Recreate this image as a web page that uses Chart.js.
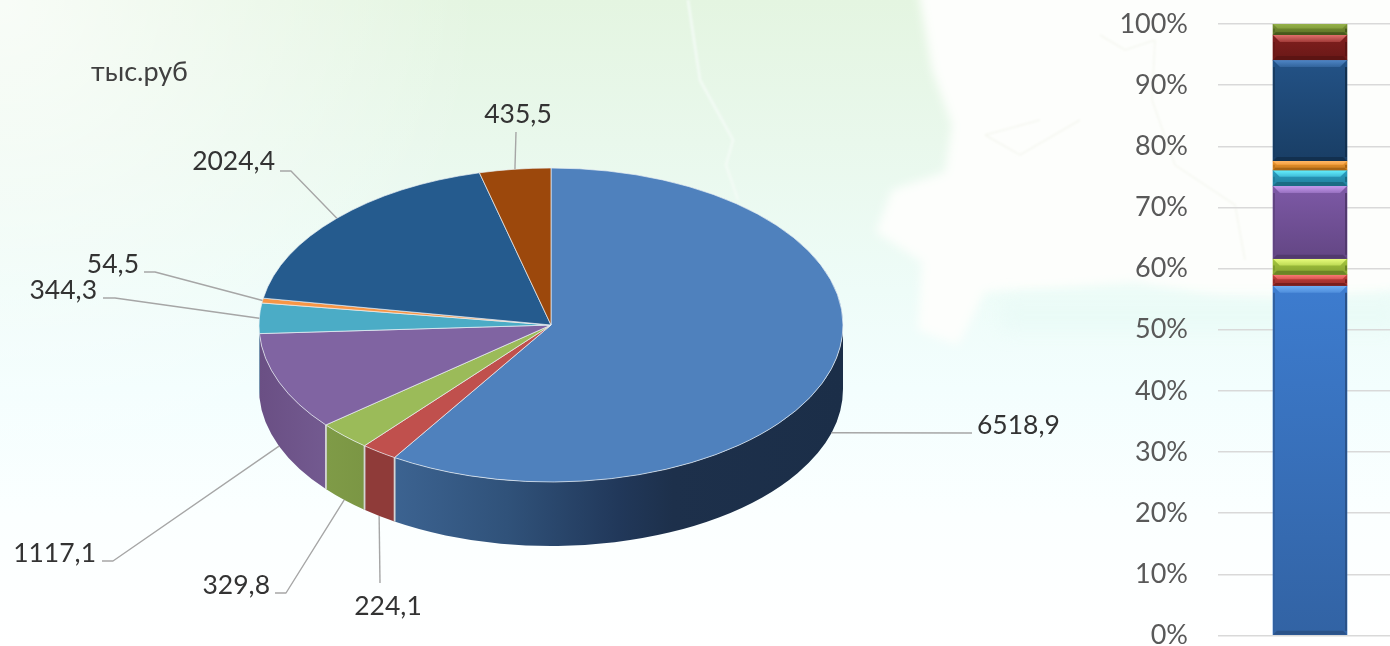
<!DOCTYPE html>
<html>
<head>
<meta charset="utf-8">
<style>
html,body{margin:0;padding:0;width:1390px;height:646px;overflow:hidden;background:#fff}
#bg{position:absolute;left:0;top:0}
#pie{position:absolute;left:0;top:0}
#bar{position:absolute;left:1100px;top:0}
#unit{position:absolute;left:91px;top:54px;font:27px Lato,sans-serif;color:#404040}
</style>
<script src="https://cdn.jsdelivr.net/npm/chart.js@4"></script>
</head>
<body>
<svg id="bg" width="1390" height="646" xmlns="http://www.w3.org/2000/svg">
  <defs>
    <linearGradient id="v" x1="0" y1="0" x2="0" y2="1">
      <stop offset="0" stop-color="#e4f5e1"/>
      <stop offset=".22" stop-color="#e9f8ec"/>
      <stop offset=".45" stop-color="#eefcf8"/>
      <stop offset=".6" stop-color="#f3fefe"/>
      <stop offset=".8" stop-color="#fbffff"/>
      <stop offset="1" stop-color="#ffffff"/>
    </linearGradient>
    <radialGradient id="h" gradientUnits="userSpaceOnUse" cx="0" cy="0" r="480">
      <stop offset="0" stop-color="#ffffff" stop-opacity=".75"/>
      <stop offset="1" stop-color="#ffffff" stop-opacity="0"/>
    </radialGradient>
    <filter id="b"><feGaussianBlur stdDeviation="5"/></filter>
    <filter id="b2"><feGaussianBlur stdDeviation="1"/></filter>
    <filter id="b3" x="-20%" y="-100%" width="140%" height="300%"><feGaussianBlur stdDeviation="10"/></filter>
  </defs>
  <rect width="1390" height="646" fill="url(#v)"/>
  <rect width="1390" height="646" fill="url(#h)"/>
  <path filter="url(#b)" fill="#fdfefc" d="M918,-10 L932,70 L952,125 L945,172 L892,190 L876,232 L922,262 L918,330 L958,345 L985,292 L1070,287 L1135,282 L1215,296 L1290,300 L1400,290 L1400,-10 Z"/>
  <path filter="url(#b2)" fill="none" stroke="#f3fbf5" stroke-width="2.5" d="M688,0 L700,80 L733,140 L726,165 L738,200"/>
  <path filter="url(#b2)" fill="none" stroke="#f5f7f0" stroke-width="1.5" d="M1155,40 L1152,100 L1175,165 L1235,205 L1245,260 M1100,35 L1125,50 L1155,40 M1040,120 L985,135 M985,135 L1020,155 L1080,120"/>
  <rect y="300" x="1000" width="400" height="30" fill="#e6faf5" opacity=".6" filter="url(#b3)"/>
</svg>
<canvas id="pie" width="1390" height="646"></canvas>
<canvas id="bar" width="302" height="670"></canvas>
<div id="unit">тыс.руб</div>
<script>
// ---- pie data ----
const pieValues = [6518.9, 224.1, 329.8, 1117.1, 344.3, 54.5, 2024.4, 435.5];
const pieLabels = ['6518,9', '224,1', '329,8', '1117,1', '344,3', '54,5', '2024,4', '435,5'];
const pieColors = ['#4f81bd', '#c0504d', '#9bbb59', '#8064a2', '#4bacc6', '#f79646', '#255b8e', '#9c480c'];

// ---- stacked bar data (share, %) ----
const stackValues = [57.2, 1.8, 2.6, 11.9, 2.6, 1.5, 16.5, 4.1, 1.8];
const stackColors = ['#3d7ccf', '#c5403c', '#a6c83e', '#7d59a6', '#2a9fc2', '#f0972e', '#235286', '#801f1e', '#7a9434'];
const stackDark   = ['#2a5288', '#7a1f1d', '#6b8526', '#523a6e', '#1b6c84', '#a96514', '#12304f', '#5c1413', '#46591c'];
const stackLight  = ['#6fb0f5', '#fb7a76', '#e8fc7c', '#c79bef', '#66f2ff', '#ffb766', '#4f86c6', '#e0706c', '#95b24a'];

// ---- drawing settings ----
const FONT = 'Lato, sans-serif';
const SQUASH = 157 / 292;
const DEPTH = 64;
const leaderLayout = [
  {elbow:[972,433], end:[972,433], tx:977,  ty:425, align:'left'},
  {elbow:[380,583], end:[380,583], tx:388,  ty:606, align:'center'},
  {elbow:[286,593], end:[275,593], tx:270,  ty:585, align:'right'},
  {elbow:[113,561], end:[102,561], tx:96,   ty:553, align:'right'},
  {elbow:[115,298], end:[103,298], tx:97,   ty:290, align:'right'},
  {elbow:[155,272], end:[144,272], tx:139,  ty:264, align:'right'},
  {elbow:[291,171], end:[280,171], tx:275,  ty:161, align:'right'},
  {elbow:[516,132], end:[516,132], tx:518,  ty:114, align:'center'}
];
const sideColors = [null, ['#8f3b39','#8f3b39'], ['#7f9b47','#7b9644'], ['#6a4f84','#735a90'], ['#3b8ba1','#3b8ba1'], ['#c47a3a','#c47a3a'], ['#1e4a73','#1e4a73'], ['#7c3a0a','#7c3a0a']];

const pieTilt = {
  id: 'pieTilt',
  beforeDatasetsDraw(chart) {
    const ctx = chart.ctx;
    const arcs = chart.getDatasetMeta(0).data;
    // side wall
    arcs.forEach((arc, i) => {
      const x = arc.x, y = arc.y, r = arc.outerRadius, s = arc.startAngle, e = arc.endAngle;
      const ry = r * SQUASH;
      for (const shift of [0, Math.PI * 2, -Math.PI * 2]) {
        const a0 = Math.max(s + shift, 0), a1 = Math.min(e + shift, Math.PI);
        if (a1 <= a0) continue;
        ctx.save();
        ctx.beginPath();
        ctx.ellipse(x, y, r, ry, 0, a0, a1);
        ctx.ellipse(x, y + DEPTH, r, ry, 0, a1, a0, true);
        ctx.closePath();
        const xa = x + r * Math.cos(a1), xb = x + r * Math.cos(a0);
        const g = ctx.createLinearGradient(xa, 0, xb, 0);
        if (i === 0) {
          g.addColorStop(0, '#3c6391');
          g.addColorStop(0.25, '#30527a');
          g.addColorStop(0.5, '#21385a');
          g.addColorStop(0.62, '#1d304b');
          g.addColorStop(1, '#1b2e48');
        } else {
          g.addColorStop(0, sideColors[i][0]);
          g.addColorStop(1, sideColors[i][1]);
        }
        ctx.fillStyle = g;
        ctx.fill();
        ctx.restore();
        // separators between neighbouring slices on the wall
        ctx.save();
        ctx.strokeStyle = '#d4d4d4';
        ctx.lineWidth = 1.6;
        [a0, a1].forEach(a => {
          if (a <= 0.001 || a >= Math.PI * 0.95) return;
          const px = x + r * Math.cos(a), py = y + ry * Math.sin(a);
          ctx.beginPath(); ctx.moveTo(px, py); ctx.lineTo(px, py + DEPTH); ctx.stroke();
        });
        ctx.restore();
      }
    });
    // squash the top face
    const c = arcs[0];
    ctx.save();
    ctx.translate(c.x, c.y);
    ctx.scale(1, SQUASH);
    ctx.translate(-c.x, -c.y);
  },
  afterDatasetsDraw(chart) {
    const ctx = chart.ctx;
    ctx.restore();
    const arcs = chart.getDatasetMeta(0).data;
    arcs.forEach((arc, i) => {
      const L = leaderLayout[i];
      const mid = (arc.startAngle + arc.endAngle) / 2;
      const r = arc.outerRadius, ry = r * SQUASH;
      const sx = arc.x + r * Math.cos(mid);
      let sy = arc.y + ry * Math.sin(mid);
      if (Math.sin(mid) > 0) sy += DEPTH;
      ctx.save();
      ctx.strokeStyle = '#a6a6a6';
      ctx.lineWidth = 1.4;
      ctx.lineJoin = 'round';
      ctx.beginPath();
      ctx.moveTo(sx, sy);
      ctx.lineTo(L.elbow[0], L.elbow[1]);
      ctx.lineTo(L.end[0], L.end[1]);
      ctx.stroke();
      ctx.fillStyle = '#333333';
      ctx.font = '26.5px ' + FONT;
      ctx.textAlign = L.align;
      ctx.textBaseline = 'middle';
      ctx.fillText(pieLabels[i], L.tx, L.ty);
      ctx.restore();
    });
  }
};

new Chart(document.getElementById('pie'), {
  type: 'pie',
  data: {
    labels: pieLabels,
    datasets: [{
      data: pieValues,
      backgroundColor: pieColors,
      borderColor: 'rgba(235,240,245,0.9)',
      borderWidth: 1,
      clip: false
    }]
  },
  options: {
    responsive: false,
    animation: false,
    layout: { padding: { left: 258.5, right: 546.5, top: 32.5, bottom: 28.5 } },
    plugins: { legend: { display: false }, tooltip: { enabled: false } }
  },
  plugins: [pieTilt]
});

function mix(a, b, t) {
  const p = s => [1, 3, 5].map(k => parseInt(s.substr(k, 2), 16));
  const A = p(a), B = p(b);
  return 'rgb(' + A.map((v, k) => Math.round(v + (B[k] - v) * t)).join(',') + ')';
}

const bevel = {
  id: 'bevel',
  afterDatasetsDraw(chart) {
    const ctx = chart.ctx;
    chart.data.datasets.forEach((ds, i) => {
      const el = chart.getDatasetMeta(i).data[0];
      const w = el.width, L = el.x - w / 2, R = el.x + w / 2, T = el.y, B = el.base;
      const h = B - T, d = Math.min(7, h * 0.42), db = Math.min(4, h * 0.25);
      const g = ctx.createLinearGradient(0, T, 0, B);
      g.addColorStop(0, stackColors[i]);
      g.addColorStop(1, mix(stackColors[i], stackDark[i], 0.6));
      ctx.fillStyle = g;
      ctx.fillRect(L, T, w, h);
      const tg = ctx.createLinearGradient(0, T, 0, T + d);
      tg.addColorStop(0, stackLight[i]);
      tg.addColorStop(1, mix(stackLight[i], stackColors[i], 0.65));
      ctx.fillStyle = tg;
      ctx.beginPath(); ctx.moveTo(L, T); ctx.lineTo(R, T); ctx.lineTo(R - d, T + d); ctx.lineTo(L + d, T + d); ctx.closePath(); ctx.fill();
      ctx.fillStyle = stackDark[i];
      ctx.beginPath(); ctx.moveTo(L, B); ctx.lineTo(R, B); ctx.lineTo(R - db, B - db); ctx.lineTo(L + db, B - db); ctx.closePath(); ctx.fill();
      const side = Math.max(h - d - db, 0);
      ctx.fillStyle = mix(stackDark[i], stackColors[i], 0.35);
      ctx.fillRect(L, T + d, 2, side);
      ctx.fillStyle = stackDark[i];
      ctx.fillRect(R - 2, T + d, 2, side);
    });
  }
};

new Chart(document.getElementById('bar'), {
  type: 'bar',
  data: {
    labels: ['Итого'],
    datasets: stackValues.map((v, i) => ({ data: [v], backgroundColor: stackColors[i], barThickness: 74 }))
  },
  options: {
    responsive: false,
    animation: false,
    layout: { padding: { left: 0, right: 0, top: 24, bottom: 34.5 } },
    plugins: { legend: { display: false }, tooltip: { enabled: false } },
    scales: {
      x: { stacked: true, display: false },
      y: {
        stacked: true, min: 0, max: 100,
        afterFit(s) { s.width = 118; s.paddingTop = 0; s.paddingBottom = 0; },
        grid: { color: '#d9d9d9', lineWidth: 1.5, drawTicks: false },
        border: { display: false },
        ticks: {
          stepSize: 10, padding: 30, color: '#595959',
          font: { family: FONT, size: 27 },
          callback: v => v + '%'
        }
      }
    }
  },
  plugins: [bevel]
});
</script>
</body>
</html>
